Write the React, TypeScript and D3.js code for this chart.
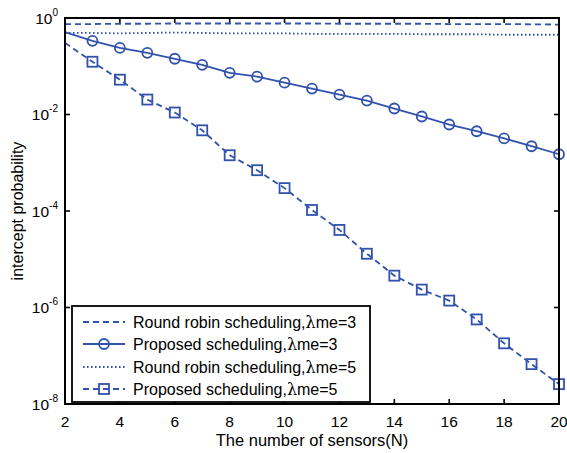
import React from "react";
import * as d3 from "d3";

// number of sensors
const sensors = [2, 3, 4, 5, 6, 7, 8, 9, 10, 11, 12, 13, 14, 15, 16, 17, 18, 19, 20];

// round robin, lambda me = 3 (dashed, no markers)
const roundRobin3 = [0.75, 0.75, 0.76, 0.76, 0.77, 0.77, 0.77, 0.77, 0.77, 0.77, 0.76, 0.76, 0.76, 0.76, 0.75, 0.75, 0.75, 0.74, 0.73];
// proposed, lambda me = 3 (solid, circles)
const proposed3 = [0.51, 0.336, 0.24, 0.19, 0.143, 0.107, 0.073, 0.061, 0.0457, 0.0344, 0.0258, 0.0194, 0.0133, 0.0091, 0.0062, 0.0045, 0.0032, 0.0022, 0.0015];
// round robin, lambda me = 5 (dotted)
const roundRobin5 = [0.49, 0.49, 0.48, 0.49, 0.5, 0.49, 0.48, 0.48, 0.48, 0.47, 0.47, 0.47, 0.47, 0.46, 0.46, 0.46, 0.45, 0.45, 0.45];
// proposed, lambda me = 5 (dashed, squares)
const proposed5 = [0.305, 0.124, 0.0527, 0.0204, 0.011, 0.0047, 0.00143, 7.0e-4, 2.98e-4, 1.05e-4, 4.05e-5, 1.3e-5, 4.57e-6, 2.35e-6, 1.39e-6, 5.66e-7, 1.81e-7, 6.7e-8, 2.58e-8];

const xTicks = [2, 4, 6, 8, 10, 12, 14, 16, 18, 20];
const yExponents = [0, -2, -4, -6, -8];
const legendLabels = [
  "Round robin scheduling,",
  "Proposed scheduling,",
  "Round robin scheduling,",
  "Proposed scheduling,",
];
const legendLambda = ["3", "3", "5", "5"];

const W = 567;
const H = 453;
const left = 65;
const right = 559;
const top = 18;
const bottom = 404;
const blue = "#3152ad";
const font = "'Liberation Sans', Arial, Helvetica, sans-serif";

const App = () => {
  const x = d3.scaleLinear().domain([2, 20]).range([left, right]);
  const y = d3.scaleLog().domain([1e-8, 1]).range([bottom, top]);

  const makeLine = (vals: number[]) =>
    d3
      .line<number>()
      .x((_, i) => x(sensors[i]))
      .y((v) => y(v))(vals) || "";

  const series = [
    { vals: roundRobin3, dash: "6,4", marker: "none" },
    { vals: proposed3, dash: "none", marker: "circle" },
    { vals: roundRobin5, dash: "1.6,2.4", marker: "none" },
    { vals: proposed5, dash: "6,4", marker: "square" },
  ];

  const drawMarker = (kind: string, cx: number, cy: number, key: string) => {
    if (kind === "circle")
      return <circle key={key} cx={cx} cy={cy} r={5} fill="none" stroke={blue} strokeWidth={1.8} />;
    if (kind === "square")
      return <rect key={key} x={cx - 5} y={cy - 5} width={10} height={10} fill="none" stroke={blue} strokeWidth={1.8} />;
    return null;
  };

  const legX = 72;
  const legY = 306;
  const rowY = [322, 344, 367, 389];

  return (
    <svg width={W} height={H} style={{ position: "absolute", left: 0, top: 0, background: "#fff" }}>
      <rect x={0} y={0} width={W} height={H} fill="#fff" />
      {/* ticks */}
      {xTicks.map((t) => (
        <g key={"xt" + t}>
          <line x1={x(t)} x2={x(t)} y1={bottom} y2={bottom - 5} stroke="#000" strokeWidth={1.6} />
          <line x1={x(t)} x2={x(t)} y1={top} y2={top + 5} stroke="#000" strokeWidth={1.6} />
          <text x={x(t)} y={bottom + 23} textAnchor="middle" fontFamily={font} fontSize={15.5}>
            {t}
          </text>
        </g>
      ))}
      {yExponents.map((e) => (
        <g key={"yt" + e}>
          <line x1={left} x2={left + 5} y1={y(Math.pow(10, e))} y2={y(Math.pow(10, e))} stroke="#000" strokeWidth={1.6} />
          <line x1={right} x2={right - 5} y1={y(Math.pow(10, e))} y2={y(Math.pow(10, e))} stroke="#000" strokeWidth={1.6} />
          <text x={left - 7} y={y(Math.pow(10, e)) + 5.5} textAnchor="end" fontFamily={font} fontSize={15.5}>
            10
            <tspan dy={-8} fontSize={10}>
              {e}
            </tspan>
          </text>
        </g>
      ))}

      {/* series */}
      {series.map((s, si) => (
        <g key={"s" + si}>
          <path d={makeLine(s.vals)} fill="none" stroke={blue} strokeWidth={1.8} strokeDasharray={s.dash} />
          {s.marker !== "none" &&
            s.vals.map((v, i) => (i === 0 ? null : drawMarker(s.marker, x(sensors[i]), y(v), "m" + si + "-" + i)))}
        </g>
      ))}

      {/* frame */}
      <rect x={left} y={top} width={right - left} height={bottom - top} fill="none" stroke="#000" strokeWidth={2} />

      {/* legend */}
      <rect x={legX} y={legY} width={298} height={96} fill="#fff" stroke="#000" strokeWidth={1.8} />
      {series.map((s, i) => (
        <g key={"lg" + i}>
          <line x1={83} x2={125} y1={rowY[i]} y2={rowY[i]} stroke={blue} strokeWidth={1.8} strokeDasharray={s.dash} />
          {drawMarker(s.marker, 104, rowY[i], "lm" + i)}
          <text x={133} y={rowY[i] + 5.5} fontFamily={font} fontSize={16}>
            {legendLabels[i]}
            <tspan fontFamily="'DejaVu Serif', serif">λ</tspan>
            {"me=" + legendLambda[i]}
          </text>
        </g>
      ))}

      {/* axis labels */}
      <text x={(left + right) / 2} y={446} textAnchor="middle" fontFamily={font} fontSize={16.5}>
        The number of sensors(N)
      </text>
      <text
        transform={`translate(23,${(top + bottom) / 2}) rotate(-90)`}
        textAnchor="middle"
        fontFamily={font}
        fontSize={16}
      >
        intercept probability
      </text>
    </svg>
  );
};

export default App;
